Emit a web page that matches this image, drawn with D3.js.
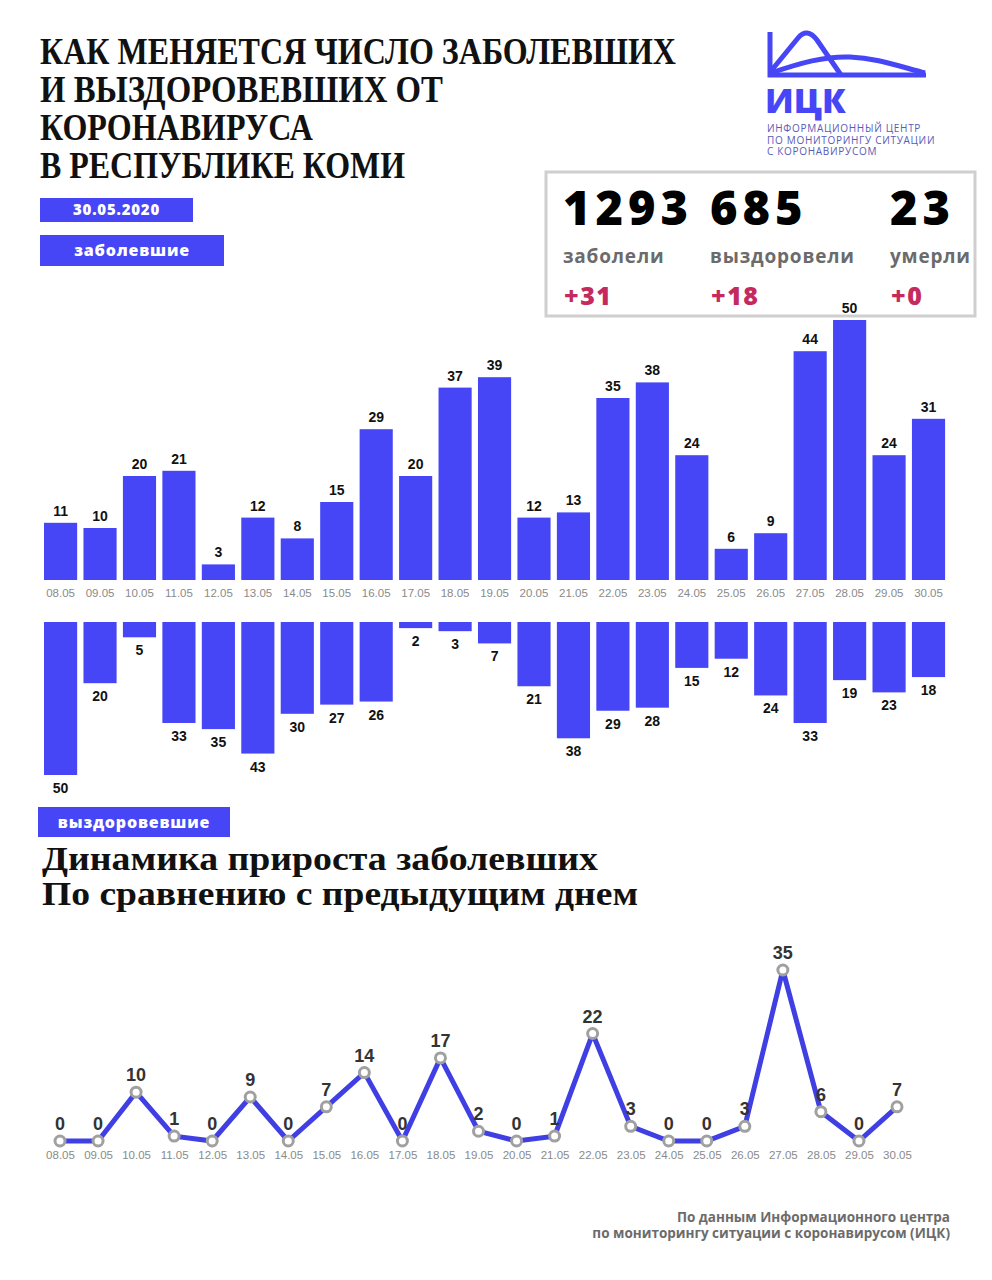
<!DOCTYPE html>
<html>
<head>
<meta charset="utf-8">
<script src="https://cdn.jsdelivr.net/npm/d3@7"></script>
<style>
  body { margin: 0; background: #fff; }
  svg { display: block; }
</style>
</head>
<body>
<div id="chart"></div>
<script>
// данные
var days = ["08.05","09.05","10.05","11.05","12.05","13.05","14.05","15.05","16.05","17.05","18.05","19.05",
  "20.05","21.05","22.05","23.05","24.05","25.05","26.05","27.05","28.05","29.05","30.05"];
var sick = [11,10,20,21,3,12,8,15,29,20,37,39,12,13,35,38,24,6,9,44,50,24,31];
var recovered = [50,20,5,33,35,43,30,27,26,2,3,7,21,38,29,28,15,12,24,33,19,23,18];
var growth = [0,0,10,1,0,9,0,7,14,0,17,2,0,1,22,3,0,0,3,35,6,0,7];
var titleLines = ["КАК МЕНЯЕТСЯ ЧИСЛО ЗАБОЛЕВШИХ", "И ВЫЗДОРОВЕВШИХ ОТ", "КОРОНАВИРУСА", "В РЕСПУБЛИКЕ КОМИ"];
var titleWidths = [636, 403, 273, 365];
var subLines = ["Динамика прироста заболевших", "По сравнению с предыдущим днем"];
var subWidths = [556, 596];
var totals = [
  { value: "1293", label: "заболели", delta: "+31" },
  { value: "685", label: "выздоровели", delta: "+18" },
  { value: "23", label: "умерли", delta: "+0" }
];

var blue = "#4646f6";
var sans = "'Open Sans', 'Noto Sans', sans-serif";
var serif = "'Liberation Serif', 'DejaVu Serif', serif";
var arial = "'Liberation Sans', Arial, sans-serif";

var svg = d3.select("#chart").append("svg")
  .attr("width", 992).attr("height", 1280);

// заголовок
svg.append("g").selectAll("text").data(titleLines).enter().append("text")
  .attr("x", 40).attr("y", (d, i) => 64 + i * 38)
  .attr("font-family", serif).attr("font-weight", "bold").attr("font-size", 38)
  .attr("textLength", (d, i) => titleWidths[i]).attr("lengthAdjust", "spacingAndGlyphs")
  .attr("fill", "#111")
  .text(d => d);

// плашки
function badge(x, y, w, h, text, size) {
  svg.append("rect").attr("x", x).attr("y", y).attr("width", w).attr("height", h).attr("fill", blue);
  svg.append("text").attr("x", x + w / 2).attr("y", y + h / 2 + size * 0.36)
    .attr("text-anchor", "middle").attr("font-family", sans).attr("font-weight", 800)
    .attr("font-size", size).attr("letter-spacing", 0.8).attr("fill", "#fff").text(text);
}
badge(40, 198, 153, 24, "30.05.2020", 15);
badge(40, 235, 184, 31, "заболевшие", 16);
badge(38, 807, 192, 30, "выздоровевшие", 16);

// логотип
var logo = svg.append("g").attr("fill", "none").attr("stroke", blue).attr("stroke-width", 5);
logo.append("path").attr("d", "M770,32 L770,75 L926,75");
logo.append("path").attr("d", "M771,71 L798,38 Q807,27 817,40 L841,75");
logo.append("path").attr("d", "M771,73 C800,63 825,56 850,57 C875,58 895,65 925,73");
svg.append("text").attr("x", 765).attr("y", 113).attr("font-family", sans).attr("font-weight", 800)
  .attr("font-size", 34).attr("fill", blue).text("ИЦК");
svg.append("g").selectAll("text")
  .data(["ИНФОРМАЦИОННЫЙ ЦЕНТР", "ПО МОНИТОРИНГУ СИТУАЦИИ", "С КОРОНАВИРУСОМ"])
  .enter().append("text")
  .attr("x", 767).attr("y", (d, i) => 132 + i * 11.5)
  .attr("font-family", sans).attr("font-size", 10).attr("letter-spacing", 0.7)
  .attr("fill", "#5a5ab8").text(d => d);

// блок итогов
svg.append("rect").attr("x", 546).attr("y", 172).attr("width", 429).attr("height", 144)
  .attr("fill", "#fff").attr("stroke", "#cfcfcf").attr("stroke-width", 3);
var colX = [563, 710, 890];
var tot = svg.append("g").selectAll("g").data(totals).enter().append("g")
  .attr("transform", (d, i) => `translate(${colX[i]},0)`);
tot.append("text").attr("y", 225).attr("font-family", sans).attr("font-weight", 800)
  .attr("font-size", 47).attr("letter-spacing", 5).attr("fill", "#000").text(d => d.value);
tot.append("text").attr("x", 0).attr("y", 263).attr("font-family", sans).attr("font-weight", 700)
  .attr("font-size", 19).attr("letter-spacing", 0.8).attr("fill", "#6b6b6b").text(d => d.label);
tot.append("text").attr("x", 1).attr("y", 305).attr("font-family", sans).attr("font-weight", 800)
  .attr("font-size", 25).attr("letter-spacing", 1.5).attr("fill", "#c42a5e").text(d => d.delta);

// столбцы: шкалы
var x = d3.scaleBand().domain(days).range([37.7, 951.4]).padding(0.16);
var yTop = d3.scaleLinear().domain([0, 50]).range([580, 320]);
var yBot = d3.scaleLinear().domain([0, 50]).range([622, 775]);

// заболевшие
var gSick = svg.append("g");
gSick.selectAll("rect").data(sick).enter().append("rect")
  .attr("x", (d, i) => x(days[i])).attr("width", x.bandwidth())
  .attr("y", d => yTop(d)).attr("height", d => yTop(0) - yTop(d))
  .attr("fill", blue);
gSick.selectAll("text").data(sick).enter().append("text")
  .attr("x", (d, i) => x(days[i]) + x.bandwidth() / 2).attr("y", d => yTop(d) - 7)
  .attr("text-anchor", "middle").attr("font-family", arial).attr("font-weight", "bold")
  .attr("font-size", 14).attr("fill", "#111").text(d => d);

// ось x
var axTop = svg.append("g").attr("transform", `translate(0,${yTop(0)})`)
  .call(d3.axisBottom(x).tickSize(0).tickPadding(9));
axTop.select(".domain").remove();
axTop.selectAll("text").attr("font-family", arial).attr("font-size", 11.5).attr("fill", "#8a8a8a");

// выздоровевшие
var gRec = svg.append("g");
gRec.selectAll("rect").data(recovered).enter().append("rect")
  .attr("x", (d, i) => x(days[i])).attr("width", x.bandwidth())
  .attr("y", yBot(0)).attr("height", d => yBot(d) - yBot(0))
  .attr("fill", blue);
gRec.selectAll("text").data(recovered).enter().append("text")
  .attr("x", (d, i) => x(days[i]) + x.bandwidth() / 2).attr("y", d => yBot(d) + 18)
  .attr("text-anchor", "middle").attr("font-family", arial).attr("font-weight", "bold")
  .attr("font-size", 14).attr("fill", "#111").text(d => d);

// подзаголовок
svg.append("g").selectAll("text").data(subLines).enter().append("text")
  .attr("x", 42).attr("y", (d, i) => 870 + i * 35)
  .attr("font-family", serif).attr("font-weight", "bold").attr("font-size", 33)
  .attr("textLength", (d, i) => subWidths[i]).attr("lengthAdjust", "spacingAndGlyphs")
  .attr("fill", "#111").text(d => d);

// линия прироста
var xp = d3.scalePoint().domain(days).range([60, 897]);
var yl = d3.scaleLinear().domain([0, 35]).range([1141, 970]);

svg.append("path").datum(growth)
  .attr("d", d3.line().x((d, i) => xp(days[i])).y(d => yl(d)))
  .attr("fill", "none").attr("stroke", "#3f3fe4").attr("stroke-width", 5)
  .attr("stroke-linejoin", "miter");

var pts = svg.append("g");
pts.selectAll("circle").data(growth).enter().append("circle")
  .attr("cx", (d, i) => xp(days[i])).attr("cy", d => yl(d)).attr("r", 5)
  .attr("fill", "#fff").attr("stroke", "#a0a0a0").attr("stroke-width", 3);
pts.selectAll("text").data(growth).enter().append("text")
  .attr("x", (d, i) => xp(days[i])).attr("y", d => yl(d) - 11)
  .attr("text-anchor", "middle").attr("font-family", arial).attr("font-weight", "bold")
  .attr("font-size", 18).attr("fill", "#333").text(d => d);

var axLine = svg.append("g").attr("transform", `translate(0,${yl(0)})`)
  .call(d3.axisBottom(xp).tickSize(0).tickPadding(10));
axLine.select(".domain").remove();
axLine.selectAll("text").attr("font-family", arial).attr("font-size", 11.5).attr("fill", "#8a8a8a");

// подпись
svg.append("g").selectAll("text")
  .data(["По данным Информационного центра", "по мониторингу ситуации с коронавирусом (ИЦК)"])
  .enter().append("text")
  .attr("x", 950).attr("y", (d, i) => 1222 + i * 16).attr("text-anchor", "end")
  .attr("font-family", sans).attr("font-weight", 700).attr("font-size", 13.5)
  .attr("fill", "#6b6b6b").text(d => d);
</script>
</body>
</html>
